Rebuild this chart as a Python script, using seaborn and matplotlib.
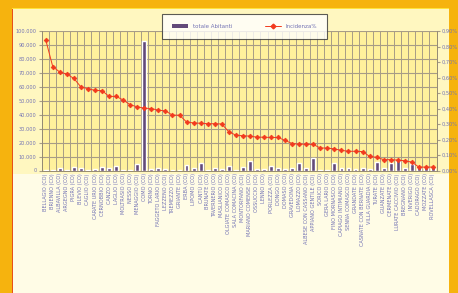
import numpy as np
import matplotlib
matplotlib.use("Agg")
import matplotlib.pyplot as plt
from matplotlib.patches import Rectangle, Patch
from matplotlib.lines import Line2D
import seaborn as sns

comuni = [
    "BELLAGIO (CO)", "BRIENNO (CO)", "ALBAVILLA (CO)", "ARGEGNO (CO)", "PIGRA (CO)",
    "BLEVIO (CO)", "CAGLIO (CO)", "CARATE URIO (CO)", "CERNOBBIO (CO)", "CANZO (CO)",
    "LAGLIO (CO)", "MOLTRASIO (CO)", "NESSO (CO)", "MENAGGIO (CO)", "COMO (CO)",
    "TORNO (CO)", "FAGGETO LARIO (CO)", "LEZZENO (CO)", "TREMEZZO (CO)", "GRIANTE (CO)",
    "ERBA (CO)", "LIPOMO (CO)", "CANTÙ (CO)", "BRUNATE (CO)", "TAVERNERIO (CO)",
    "MASLIANICO (CO)", "OLGIATE COMASCO (CO)", "SALA COMACINA (CO)", "MONTORFANO (CO)",
    "MARIANO COMENSE (CO)", "OSSUCCIO (CO)", "LENNO (CO)", "PORLEZZA (CO)", "DONGO (CO)",
    "DOMASO (CO)", "GRAVEDONA (CO)", "LOMAZZO (CO)", "ALBESE CON CASSANO (CO)",
    "APPIANO GENTILE (CO)", "SORICO (CO)", "GERA LARIO (CO)", "FINO MORNASCO (CO)",
    "CAPIAGO INTIMIANO (CO)", "SENNA COMASCO (CO)", "GRANDATE (CO)",
    "CASNATE CON BERNATE (CO)", "VILLA GUARDIA (CO)", "TURATE (CO)", "GUANZATE (CO)",
    "CERMENATE (CO)", "LURATE CACCIVIO (CO)", "BREGNANO (CO)", "INVERIGO (CO)",
    "CADORAGO (CO)", "MOZZATE (CO)", "ROVELLASCA (CO)",
]

abitanti = [
    300, 300, 2000, 600, 2500, 1600, 400, 900, 2700, 1600,
    3000, 600, 600, 4900, 93000, 900, 1600, 1200, 500, 500,
    4000, 1600, 5400, 500, 2000, 1200, 3000, 700, 2500, 6800,
    900, 900, 3000, 1600, 900, 2000, 5200, 2000, 9200, 300,
    300, 5200, 1600, 1600, 1200, 2000, 1200, 6300, 1600, 5200,
    7500, 1600, 4400, 2700, 2700, 2700,
]

incidenza = [
    0.843, 0.670, 0.635, 0.622, 0.594, 0.539, 0.528, 0.517, 0.515, 0.478,
    0.478, 0.455, 0.424, 0.411, 0.402, 0.400, 0.389, 0.385, 0.357, 0.357,
    0.313, 0.307, 0.305, 0.302, 0.302, 0.300, 0.250, 0.228, 0.224, 0.222,
    0.215, 0.215, 0.213, 0.213, 0.194, 0.174, 0.170, 0.170, 0.168, 0.145,
    0.145, 0.139, 0.130, 0.124, 0.124, 0.122, 0.091, 0.085, 0.070, 0.070,
    0.067, 0.063, 0.054, 0.022, 0.022, 0.022,
]

left_ticks = [0, 10000, 20000, 30000, 40000, 50000, 60000, 70000, 80000, 90000, 100000]
right_ticks = [0.0, 0.1, 0.2, 0.3, 0.4, 0.5, 0.6, 0.7, 0.8, 0.9]

bar_color = "#634A7A"
line_color = "#F23A1E"
text_color = "#7272B4"
grid_color = "#A79C86"

sns.set_style("white")
plt.rcParams["font.family"] = ["DejaVu Sans"]

fig = plt.figure(figsize=(4.58, 2.93), dpi=100)
fig.patch.set_facecolor("#F6B30E")

W, H = 458.0, 293.0
bg = [
    Rectangle((13 / W, 0), (449 - 13) / W, (H - 8) / H, facecolor="#FFF7C0"),
    Rectangle((13 / W, 0), (449 - 13) / W, (H - 174) / H, facecolor="#FFFCE6"),
    Rectangle((12 / W, 0), 1.2 / W, (H - 8) / H, facecolor="#E8501A"),
    Rectangle((12 / W, (H - 9) / H), (449 - 12) / W, 1.2 / H, facecolor="#FFE23A"),
]
for r in bg:
    r.set_transform(fig.transFigure)
    r.set_edgecolor("none")
    r.set_zorder(-10)
    fig.patches.append(r)

ax = fig.add_axes([42.2 / W, (H - 170.5) / H, 394.3 / W, 139.5 / H])
ax.set_facecolor("#FFF19C")

sns.barplot(x=comuni, y=abitanti, ax=ax, color=bar_color, width=0.55,
            saturation=1, zorder=3)
ax.set_ylim(0, 100000)
ax.set_xlim(-0.5, len(comuni) - 0.5)
ax.set_yticks(left_ticks)
ax.set_yticklabels([f"{v:,}".replace(",", ".") for v in left_ticks])
ax.set_xticks(np.arange(-0.5, len(comuni), 1), minor=True)
ax.grid(True, which="major", axis="y", color=grid_color, lw=0.8, zorder=1)
ax.grid(True, which="minor", axis="x", color=grid_color, lw=0.7, zorder=1)
ax.set_axisbelow(True)

ax2 = ax.twinx()
sns.pointplot(x=comuni, y=incidenza, ax=ax2, color=line_color, markers="D",
              markersize=2.4, linewidth=0.7, errorbar=None)
ax2.set_ylim(0, 0.9)
ax2.set_yticks(right_ticks)
ax2.set_yticklabels([f"{v:.2f}%".replace(".", ",") for v in right_ticks])
ax2.grid(False)
ax.set_xlim(-0.5, len(comuni) - 0.5)

ax.set_xticks(range(len(comuni)))
ax.set_xticklabels(comuni, rotation=90, fontsize=3.6, color=text_color)
ax.set_xlabel("")
ax.set_ylabel("")
ax2.set_xlabel("")
ax2.set_ylabel("")
ax.tick_params(axis="y", labelsize=3.6, labelcolor=text_color, length=2,
               color=grid_color, pad=2)
ax.tick_params(axis="x", which="both", length=0, pad=2)
ax2.tick_params(axis="y", labelsize=3.6, labelcolor=text_color, length=2,
                color=grid_color, pad=2)
for a in (ax, ax2):
    for s in a.spines.values():
        s.set_color("#948A74")
        s.set_linewidth(0.6)
ax2.spines["top"].set_visible(False)
ax.spines["top"].set_visible(False)

handles = [Patch(facecolor=bar_color, edgecolor="none"),
           Line2D([], [], color=line_color, marker="D", markersize=2.4, lw=0.7)]
leg = fig.legend(handles, ["totale Abitanti", "Incidenza%"], ncol=2,
                 loc="lower left", mode="expand",
                 bbox_to_anchor=(159 / W, 1 - 42 / H, 171 / W, 33 / H),
                 fontsize=4, frameon=True, fancybox=False, borderpad=1.8,
                 handlelength=3, columnspacing=4, labelcolor=text_color)
leg.get_frame().set_edgecolor("#333333")
leg.get_frame().set_linewidth(0.8)
leg.get_frame().set_facecolor("white")

fig.savefig("out.png", dpi=100, facecolor=fig.get_facecolor())
